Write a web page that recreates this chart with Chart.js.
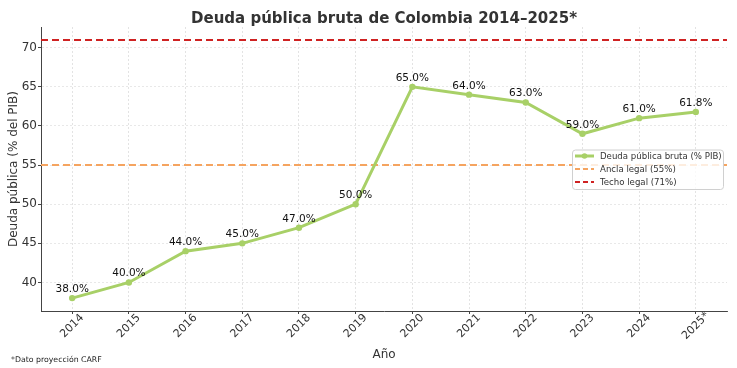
<!DOCTYPE html>
<html lang="es">
<head>
<meta charset="utf-8">
<title>Deuda pública bruta de Colombia</title>
<script src="https://cdn.jsdelivr.net/npm/chart.js@4.4.1/dist/chart.umd.min.js"></script>
<style>
  html, body { margin: 0; padding: 0; background: #fff; }
  canvas { display: block; }
</style>
</head>
<body>
<canvas id="deudaChart" width="737" height="368"></canvas>
<script>
// Datos del gráfico
const years = ["2014", "2015", "2016", "2017", "2018", "2019", "2020", "2021", "2022", "2023", "2024", "2025*"]
const debt = [38.0, 40.0, 44.0, 45.0, 47.0, 50.0, 65.0, 64.0, 63.0, 59.0, 61.0, 61.8]
const anchorLevel = 55
const ceilingLevel = 71
const yTicks = [40, 45, 50, 55, 60, 65, 70]

const FONT = "'DejaVu Sans', 'Liberation Sans', sans-serif"
const GREEN = "#a8d067"
const ORANGE = "#f5a460"
const RED = "#cf2222"
const TEXT = "#333333"

const xMin = -0.55
const xMax = years.length - 1 + 0.55

// Dibuja los textos: título, etiquetas, leyenda, nota
const decorations = {
  id: "decorations",
  afterDatasetsDraw(chart) {
    const { ctx } = chart

    // Etiquetas de valores sobre los puntos
    const meta = chart.getDatasetMeta(0)
    ctx.save()
    ctx.font = "10.5px " + FONT
    ctx.fillStyle = "#111"
    ctx.textAlign = "center"
    ctx.textBaseline = "alphabetic"
    meta.data.forEach((pt, i) => {
      ctx.fillText(debt[i].toFixed(1) + "%", pt.x, pt.y - 6)
    })
    ctx.restore()
  },
  afterDraw(chart) {
    const { ctx, chartArea, scales } = chart
    const cx = (chartArea.left + chartArea.right) / 2

    ctx.save()
    // Título
    ctx.fillStyle = TEXT
    ctx.font = "bold 15px " + FONT
    ctx.textAlign = "center"
    ctx.textBaseline = "alphabetic"
    ctx.fillText("Deuda pública bruta de Colombia 2014–2025*", cx, 23)

    // Etiquetas del eje x, rotadas 45°
    ctx.font = "11px " + FONT
    ctx.textBaseline = "middle"
    years.forEach((label, i) => {
      const x = scales.x.getPixelForValue(i)
      ctx.save()
      ctx.translate(x, chartArea.bottom + 15)
      ctx.rotate(-Math.PI / 4)
      ctx.fillText(label, 0, 0)
      ctx.restore()
    })

    // Títulos de los ejes
    ctx.font = "12px " + FONT
    ctx.textBaseline = "alphabetic"
    ctx.fillText("Año", cx, 358)
    ctx.save()
    ctx.translate(17, (chartArea.top + chartArea.bottom) / 2)
    ctx.rotate(-Math.PI / 2)
    ctx.fillText("Deuda pública (% del PIB)", 0, 0)
    ctx.restore()

    // Nota al pie
    ctx.font = "7.8px " + FONT
    ctx.textAlign = "left"
    ctx.fillStyle = "#222"
    ctx.fillText("*Dato proyección CARF", 11, 362)

    // Leyenda
    const lx = 572.5, ly = 150, lw = 151, lh = 39.5
    ctx.beginPath()
    ctx.roundRect(lx, ly, lw, lh, 3)
    ctx.fillStyle = "rgba(255,255,255,0.8)"
    ctx.fill()
    ctx.strokeStyle = "#d0d0d0"
    ctx.lineWidth = 1
    ctx.stroke()

    const items = [
      { label: "Deuda pública bruta (% PIB)", color: GREEN, dash: [], width: 3, marker: true },
      { label: "Ancla legal (55%)", color: ORANGE, dash: [5, 3], width: 2 },
      { label: "Techo legal (71%)", color: RED, dash: [5, 3], width: 2 },
    ]
    ctx.font = "8.6px " + FONT
    ctx.textBaseline = "middle"
    items.forEach((it, i) => {
      const y = ly + 6 + i * 13
      ctx.beginPath()
      ctx.setLineDash(it.dash)
      ctx.strokeStyle = it.color
      ctx.lineWidth = it.width
      ctx.moveTo(575, y)
      ctx.lineTo(594, y)
      ctx.stroke()
      ctx.setLineDash([])
      if (it.marker) {
        ctx.beginPath()
        ctx.fillStyle = it.color
        ctx.arc(584.5, y, 2.8, 0, Math.PI * 2)
        ctx.fill()
      }
      ctx.fillStyle = TEXT
      ctx.fillText(it.label, 600, y + 0.5)
    })
    ctx.restore()
  },
}

const ctx = document.getElementById("deudaChart").getContext("2d")

new Chart(ctx, {
  type: "line",
  data: {
    datasets: [
      {
        label: "Deuda pública bruta (% PIB)",
        data: debt.map((v, i) => ({ x: i, y: v })),
        borderColor: GREEN,
        backgroundColor: GREEN,
        borderWidth: 3,
        pointRadius: 3.2,
        pointBorderWidth: 0,
        pointBackgroundColor: GREEN,
        tension: 0,
        order: 0,
      },
      {
        label: "Ancla legal (55%)",
        data: [{ x: xMin, y: anchorLevel }, { x: xMax, y: anchorLevel }],
        borderColor: ORANGE,
        borderWidth: 2,
        borderDash: [7, 4],
        pointRadius: 0,
        order: 1,
      },
      {
        label: "Techo legal (71%)",
        data: [{ x: xMin, y: ceilingLevel }, { x: xMax, y: ceilingLevel }],
        borderColor: RED,
        borderWidth: 2,
        borderDash: [7, 4],
        pointRadius: 0,
        order: 1,
      },
    ],
  },
  options: {
    responsive: false,
    animation: false,
    devicePixelRatio: 1,
    layout: { padding: { top: 27, left: 0, right: 10, bottom: 0 } },
    plugins: {
      legend: { display: false },
      title: { display: false },
      tooltip: { enabled: false },
    },
    scales: {
      x: {
        type: "linear",
        min: xMin,
        max: xMax,
        afterBuildTicks: (scale) => {
          scale.ticks = years.map((_, i) => ({ value: i }))
        },
        afterFit: (scale) => {
          scale.height = 57
        },
        ticks: { display: false, autoSkip: false },
        grid: {
          color: "#dcdcdc",
          lineWidth: 0.8,
          drawTicks: true,
          tickLength: 3,
          tickColor: "#444",
          tickWidth: 1,
        },
        border: { display: true, color: "#444", width: 1, dash: [2, 2] },
      },
      y: {
        type: "linear",
        min: 36.35,
        max: 72.65,
        afterBuildTicks: (scale) => {
          scale.ticks = yTicks.map((v) => ({ value: v }))
        },
        afterFit: (scale) => {
          scale.width = 41
        },
        ticks: {
          color: TEXT,
          font: { family: FONT, size: 12 },
          padding: 1,
          callback: (v) => v,
        },
        grid: {
          color: "#e2e2e2",
          lineWidth: 0.8,
          drawTicks: true,
          tickLength: 3,
          tickColor: "#444",
          tickWidth: 1,
        },
        border: { display: true, color: "#444", width: 1, dash: [2, 2] },
      },
    },
  },
  plugins: [decorations],
})
</script>
</body>
</html>
